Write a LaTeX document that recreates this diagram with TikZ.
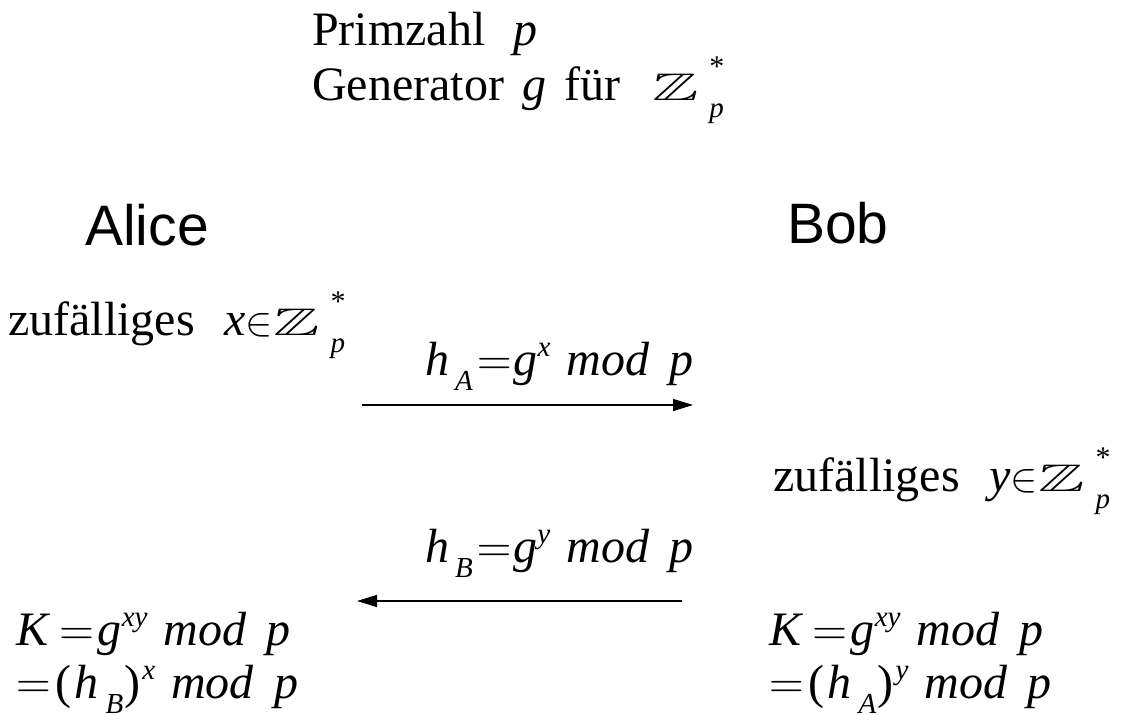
\RequirePackage{fix-cm}
\documentclass[tikz,border=0pt]{standalone}
\usepackage{amssymb}
\usepackage{graphicx}
\usepackage{fontspec}
\setmainfont{Liberation Serif}
\newfontfamily\arialf{Liberation Sans}
\usetikzlibrary{arrows.meta}
\newcommand{\mi}[1]{\textit{#1}}
\newcommand{\lo}[1]{\raisebox{-15pt}{\fontsize{29}{29}\selectfont\textit{#1}}}
\newcommand{\hi}[1]{\raisebox{19pt}{\fontsize{29}{29}\selectfont\textit{#1}}}
\newcommand{\Zp}{\scalebox{1.45}[0.8]{$\mathbb{Z}$}\hspace{11pt}\rlap{\raisebox{24pt}{\fontsize{30}{30}\selectfont *}}\raisebox{-17pt}{\fontsize{29}{29}\selectfont\textit{p}}}
\newcommand{\inn}{\hspace{-1pt}\scalebox{0.85}{$\in$}\hspace{1pt}}
\newcommand{\eqq}{\hspace{7pt}${=}$\hspace{2pt}}
\newcommand{\modp}{\hspace{16pt}\mi{mod}\hspace{20pt}\mi{p}}
\begin{document}
\begin{tikzpicture}[x=1pt,y=-1pt,
  txt/.style={anchor=base west,inner sep=0pt,font=\fontsize{48}{58}\selectfont},
  sans/.style={anchor=base west,inner sep=0pt,font=\arialf\fontsize{57}{68}\selectfont},
  msg/.style={line width=1.3pt,-{Triangle[length=20pt,width=12pt]}}]
\useasboundingbox (0,0) rectangle (1136,715);
\node[txt] (prim) at (312,45) {Primzahl\hspace{28pt}\mi{p}};
\node[txt] (gen) at (312,100) {Generator\hspace{18pt}\mi{g}\hspace{18pt}für\hspace{32pt}\Zp};
\node[sans] (alice) at (85,245) {Alice};
\node[sans] (bob) at (787,243) {Bob};
\node[txt] (xa) at (8,335) {zufälliges\hspace{30pt}\mi{x}\inn\Zp};
\node[txt] (ha) at (425,375) {\mi{h}\hspace{6pt}\lo{A}\hspace{-3pt}\eqq\mi{g}\hi{x}\modp};
\coordinate (a1s) at (362,405);
\coordinate (a1e) at (693,405);
\draw[msg] (a1s) -- (a1e);
\node[txt] (yb) at (773,491) {zufälliges\hspace{30pt}\mi{y}\inn\Zp};
\node[txt] (hb) at (425,562) {\mi{h}\hspace{6pt}\lo{B}\hspace{-3pt}\eqq\mi{g}\hi{y}\modp};
\coordinate (a2s) at (682,601);
\coordinate (a2e) at (357,601);
\draw[msg] (a2s) -- (a2e);
\node[txt] (ka) at (16,645) {\mi{K}\hspace{2pt}\eqq\hspace{2pt}\mi{g}\hi{xy}\modp};
\node[txt] (ka2) at (16,698) {\hspace{-7pt}\eqq\hspace{3pt}(\hspace{3pt}\mi{h}\hspace{7pt}\lo{B}\hspace{1pt})\hspace{2pt}\hi{x}\modp};
\node[txt] (kb) at (769,645) {\mi{K}\hspace{2pt}\eqq\hspace{2pt}\mi{g}\hi{xy}\modp};
\node[txt] (kb2) at (769,698) {\hspace{-7pt}\eqq\hspace{3pt}(\hspace{3pt}\mi{h}\hspace{7pt}\lo{A}\hspace{1pt})\hspace{2pt}\hi{y}\modp};
\end{tikzpicture}
\end{document}
